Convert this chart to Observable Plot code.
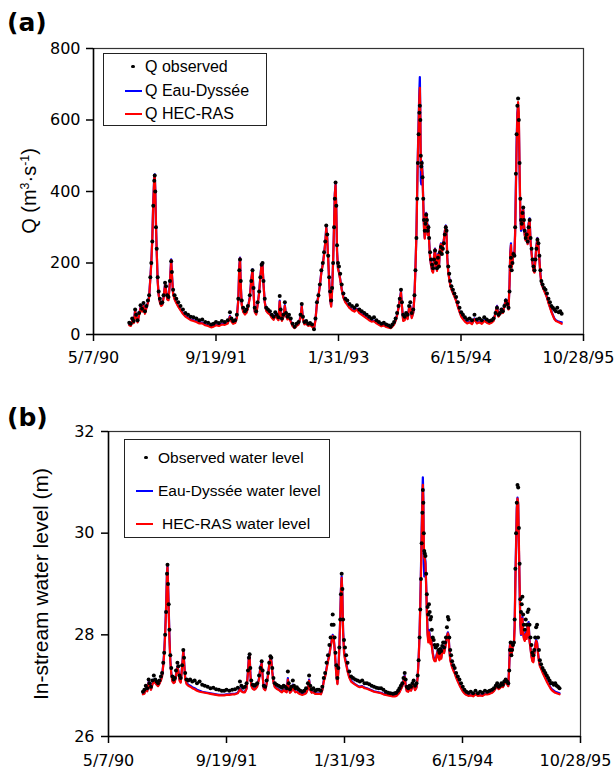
<!DOCTYPE html>
<html>
<head>
<meta charset="utf-8">
<script src="https://cdn.jsdelivr.net/npm/d3@7"></script>
<script src="https://cdn.jsdelivr.net/npm/@observablehq/plot@0.6"></script>
<style>
  html, body { margin: 0; padding: 0; background: #fff; }
  body { width: 615px; height: 769px; position: relative; overflow: hidden; font-family: "Liberation Sans", Arial, sans-serif; }
  .abs { position: absolute; }
  .lbl { position: absolute; white-space: nowrap; line-height: 20px; color: #000; }
  .panel { position: absolute; font-family: "DejaVu Sans", sans-serif; font-weight: bold; font-size: 25px; line-height: 25px; }
  .ytitle { position: absolute; white-space: nowrap; transform: translate(-50%, -50%) rotate(-90deg); color: #000; }
  .ytitle sup { font-size: 0.62em; vertical-align: 0.5em; line-height: 0; }
  .box { position: absolute; border: 1.5px solid #222; box-sizing: border-box; background: #fff; }
  .ln { position: absolute; height: 2px; }
  .dt { position: absolute; width: 3.5px; height: 3.5px; border-radius: 50%; background: #000; }
</style>
</head>
<body>
<div id="chartA" class="abs" style="left:0;top:0"></div>
<div id="chartB" class="abs" style="left:0;top:380px"></div>
<script>
// ---- tick labels / axes ----
const xTickDates = ["1990-05-07", "1991-09-19", "1993-01-31", "1994-06-15", "1995-10-28"];
const qTicks = [0, 200, 400, 600, 800];
const hTicks = [26, 28, 30, 32];

// ---- shared sampling dates ----
const dates = [
"1990-09-30","1990-10-06","1990-10-12","1990-10-18","1990-10-24","1990-10-28","1990-11-03","1990-11-09","1990-11-15","1990-11-21",
"1990-11-27","1990-12-03","1990-12-09","1990-12-15","1990-12-20","1990-12-25","1990-12-29","1991-01-02","1991-01-06","1991-01-10",
"1991-01-12","1991-01-14","1991-01-17","1991-01-20","1991-01-24","1991-01-28","1991-02-02","1991-02-07","1991-02-12","1991-02-17",
"1991-02-23","1991-02-27","1991-03-04","1991-03-09","1991-03-15","1991-03-20","1991-03-23","1991-03-28","1991-04-03","1991-04-10",
"1991-04-18","1991-04-27","1991-05-07","1991-05-17","1991-05-28","1991-06-08","1991-06-19","1991-07-01","1991-07-13","1991-07-25",
"1991-08-06","1991-08-18","1991-08-30","1991-09-09","1991-09-19","1991-10-01","1991-10-13","1991-10-25","1991-11-06","1991-11-15",
"1991-11-21","1991-11-28","1991-12-06","1991-12-13","1991-12-19","1991-12-23","1991-12-26","1991-12-29","1992-01-02","1992-01-08",
"1992-01-15","1992-01-21","1992-01-27","1992-02-04","1992-02-10","1992-02-15","1992-02-19","1992-02-24","1992-03-01","1992-03-07",
"1992-03-13","1992-03-18","1992-03-23","1992-03-27","1992-03-31","1992-04-05","1992-04-11","1992-04-18","1992-04-26","1992-05-04",
"1992-05-11","1992-05-18","1992-05-24","1992-05-31","1992-06-05","1992-06-09","1992-06-14","1992-06-20","1992-06-26","1992-07-01",
"1992-07-07","1992-07-13","1992-07-20","1992-07-28","1992-08-05","1992-08-13","1992-08-21","1992-08-29","1992-09-03","1992-09-08",
"1992-09-14","1992-09-21","1992-09-29","1992-10-07","1992-10-15","1992-10-23","1992-10-29","1992-11-04","1992-11-10","1992-11-16",
"1992-11-22","1992-11-28","1992-12-03","1992-12-08","1992-12-12","1992-12-16","1992-12-20","1992-12-24","1992-12-28","1993-01-01",
"1993-01-05","1993-01-09","1993-01-13","1993-01-16","1993-01-19","1993-01-22","1993-01-25","1993-01-29","1993-02-02","1993-02-07",
"1993-02-13","1993-02-20","1993-02-28","1993-03-08","1993-03-17","1993-03-27","1993-04-06","1993-04-16","1993-04-26","1993-05-06",
"1993-05-16","1993-05-26","1993-06-05","1993-06-15","1993-06-25","1993-07-05","1993-07-15","1993-07-25","1993-08-04","1993-08-14",
"1993-08-24","1993-09-01","1993-09-08","1993-09-15","1993-09-21","1993-09-27","1993-10-03","1993-10-08","1993-10-13","1993-10-17",
"1993-10-22","1993-10-28","1993-11-03","1993-11-09","1993-11-15","1993-11-20","1993-11-26","1993-12-02","1993-12-07","1993-12-11",
"1993-12-15","1993-12-18","1993-12-21","1993-12-24","1993-12-27","1993-12-29","1993-12-31","1994-01-02","1994-01-04","1994-01-06",
"1994-01-09","1994-01-12","1994-01-15","1994-01-18","1994-01-21","1994-01-24","1994-01-27","1994-01-30","1994-02-02","1994-02-05",
"1994-02-09","1994-02-13","1994-02-17","1994-02-21","1994-02-25","1994-03-01","1994-03-05","1994-03-09","1994-03-13","1994-03-17",
"1994-03-21","1994-03-25","1994-03-29","1994-04-02","1994-04-06","1994-04-10","1994-04-14","1994-04-17","1994-04-20","1994-04-24",
"1994-04-28","1994-05-02","1994-05-07","1994-05-13","1994-05-19","1994-05-26","1994-06-02","1994-06-09","1994-06-16","1994-06-23",
"1994-07-01","1994-07-10","1994-07-20","1994-07-30","1994-08-09","1994-08-19","1994-08-29","1994-09-08","1994-09-18","1994-09-28",
"1994-10-08","1994-10-18","1994-10-26","1994-11-03","1994-11-09","1994-11-15","1994-11-21","1994-11-27","1994-12-03","1994-12-09",
"1994-12-15","1994-12-21","1994-12-26","1994-12-30","1995-01-02","1995-01-05","1995-01-08","1995-01-11","1995-01-15","1995-01-19",
"1995-01-22","1995-01-25","1995-01-28","1995-01-31","1995-02-03","1995-02-06","1995-02-09","1995-02-12","1995-02-15","1995-02-18",
"1995-02-21","1995-02-24","1995-02-27","1995-03-02","1995-03-06","1995-03-10","1995-03-14","1995-03-18","1995-03-22","1995-03-26",
"1995-03-30","1995-04-03","1995-04-07","1995-04-11","1995-04-15","1995-04-19","1995-04-23","1995-04-27","1995-05-01","1995-05-05",
"1995-05-09","1995-05-14","1995-05-20","1995-05-26","1995-06-01","1995-06-07","1995-06-13","1995-06-19","1995-06-25","1995-07-01",
"1995-07-07","1995-07-13","1995-07-19","1995-07-25","1995-07-31"
];

// ---- (a) discharge, m3/s ----
const qObserved = [
33,30,45,38,70,55,40,60,82,72, 88,65,80,95,110,160,200,260,360,430, 445,400,300,240,160,120,100,88,90,110,
145,135,110,105,150,205,175,125,110,100, 90,80,70,60,55,50,48,45,40,42, 35,33,28,30,35,32,38,35,40,62,
45,38,40,55,100,180,210,150,95,75, 65,70,80,110,150,180,130,75,65,90, 120,160,195,200,150,100,75,70,65,55,
50,62,55,48,108,70,45,55,90,60, 50,55,45,30,22,30,35,55,85,50, 35,38,30,32,28,15,45,90,110,140,
180,200,230,260,305,280,220,160,120,95, 130,200,300,380,425,360,250,200,190,170, 140,115,100,95,85,80,75,82,70,65,
60,55,50,45,48,40,35,30,33,28, 25,22,28,35,45,60,80,100,125,90, 55,50,60,55,80,90,60,70,110,180,
270,380,480,560,620,640,600,500,470,480, 440,380,320,290,310,335,320,290,300,270, 230,210,195,185,210,235,200,185,215,190,
230,245,225,240,255,280,300,290,230,190, 170,150,135,125,115,105,90,75,62,55, 48,42,45,40,55,42,45,40,48,42,
38,40,45,60,75,55,60,70,65,80, 95,85,75,120,190,215,180,200,225,220, 300,450,560,640,660,600,480,380,320,310,
340,355,320,290,270,280,260,300,320,270, 240,210,190,180,210,240,265,255,220,180, 150,140,130,125,115,100,90,80,75,70,
65,75,62,65,58
];
const qEauDyssee = [
28,26,40,34,68,50,36,56,76,66, 82,60,76,90,106,158,205,270,375,440, 448,410,310,235,150,112,92,82,85,105,
140,125,100,98,148,210,170,115,100,90, 80,70,60,52,47,42,40,37,33,33, 28,26,22,24,28,26,30,29,33,52,
38,32,34,48,98,190,215,140,85,65, 58,62,75,105,155,182,120,65,58,85, 118,162,198,195,140,92,68,62,58,48,
43,55,48,42,95,62,40,50,82,54, 44,48,38,25,20,26,30,50,80,44, 30,33,26,28,24,18,42,88,108,138,
175,198,225,258,300,270,210,150,100,80, 125,205,310,395,420,350,235,185,175,155, 128,105,92,85,76,70,66,72,62,57,
52,47,42,38,39,33,29,25,27,23, 21,20,24,30,40,55,76,98,120,80, 40,42,55,45,75,80,48,62,108,185,
280,400,510,600,680,720,620,430,420,485, 450,370,300,270,300,340,320,280,305,260, 215,195,180,175,220,240,195,180,225,190,
240,255,230,250,265,290,305,280,215,175, 158,140,128,118,108,96,80,65,52,45, 38,33,36,31,45,33,36,32,40,35,
32,35,40,62,80,52,58,72,62,82, 98,85,72,140,230,255,190,205,230,225, 290,420,540,620,640,600,450,340,290,295,
345,350,310,280,265,285,255,310,325,260, 230,200,180,175,215,250,270,250,210,170, 145,135,125,115,105,90,78,65,55,45,
40,38,36,35,34
];
const qHecRas = [
26,24,38,32,66,48,34,54,74,64, 80,58,74,88,104,156,200,265,370,438, 445,405,305,230,148,110,90,80,83,103,
138,123,98,96,146,208,168,113,98,88, 78,68,58,50,45,40,38,35,31,31, 26,24,20,22,26,24,28,27,31,50,
36,30,32,46,96,188,213,138,83,63, 56,60,73,103,153,180,118,63,56,83, 116,160,196,193,138,90,66,60,56,46,
41,53,46,40,92,60,38,48,80,52, 42,46,36,23,18,24,28,48,78,42, 28,31,24,26,22,16,40,86,106,136,
173,196,223,256,298,268,208,148,98,78, 123,203,308,392,418,348,233,183,173,153, 126,103,90,83,74,68,64,70,60,55,
50,45,40,36,37,31,27,23,25,21, 19,18,22,28,38,53,74,96,118,78, 38,40,53,43,73,78,46,60,106,183,
278,395,500,585,660,690,600,480,460,475, 440,365,295,268,298,338,318,278,303,258, 213,193,178,173,218,238,193,178,223,188,
238,253,228,248,263,288,303,278,213,173, 156,138,126,116,106,94,78,63,50,43, 36,31,34,29,43,31,34,30,38,33,
30,33,38,60,78,50,56,70,60,80, 96,83,70,138,225,250,188,203,228,223, 280,400,520,610,650,620,470,350,295,298,
342,348,308,278,263,283,253,308,322,258, 228,198,178,173,213,248,268,248,208,168, 143,133,123,113,103,88,76,63,53,43,
38,36,34,32,30
];

// ---- (b) in-stream water level, m ----
const hObserved = [
26.88,26.92,27.00,26.95,27.12,27.05,26.98,27.10,27.20,27.12, 27.08,27.05,27.10,27.18,27.25,27.45,27.65,28.00,28.45,29.20,
29.38,29.00,28.60,28.10,27.60,27.35,27.18,27.12,27.15,27.30, 27.45,27.38,27.20,27.15,27.40,27.70,27.55,27.25,27.12,27.10,
27.12,27.08,27.10,27.05,27.08,27.02,27.00,26.98,26.95,26.96, 26.93,26.92,26.90,26.90,26.92,26.90,26.92,26.93,26.96,27.08,
27.00,26.96,26.98,27.05,27.30,27.55,27.62,27.35,27.10,27.02, 27.00,27.02,27.05,27.20,27.35,27.48,27.30,27.00,26.98,27.10,
27.25,27.45,27.58,27.55,27.35,27.15,27.05,27.02,27.00,26.98, 26.96,27.00,26.98,26.95,27.28,27.05,26.93,26.98,27.10,27.00,
26.95,26.97,26.93,26.90,26.88,26.90,26.95,27.05,27.20,27.00, 26.93,26.95,26.90,26.92,26.92,26.90,26.98,27.15,27.25,27.45,
27.60,27.80,27.95,28.20,28.40,28.20,27.95,27.65,27.40,27.15, 27.35,27.75,28.30,28.80,29.20,28.90,28.30,27.90,27.75,27.60,
27.45,27.28,27.18,27.15,27.12,27.10,27.08,27.10,27.05,27.05, 27.03,27.00,26.98,26.96,26.95,26.95,26.92,26.88,26.86,26.85,
26.84,26.85,26.86,26.90,26.95,27.00,27.05,27.15,27.25,27.12, 26.98,26.95,27.00,26.98,27.05,27.10,27.00,27.05,27.20,27.50,
27.95,28.50,29.10,29.80,30.40,30.85,30.60,30.00,29.65,29.60, 29.55,29.20,28.80,28.55,28.40,28.60,28.45,28.30,28.35,28.10,
27.95,27.90,27.80,27.75,27.78,27.80,27.70,27.65,27.72,27.68, 27.78,27.85,27.75,27.85,27.95,28.15,28.35,28.30,27.95,27.70,
27.60,27.48,27.40,27.35,27.25,27.18,27.12,27.05,26.98,26.92, 26.88,26.86,26.88,26.85,26.90,26.85,26.88,26.86,26.90,26.88,
26.90,26.92,26.95,27.00,27.05,26.98,27.00,27.05,27.02,27.08, 27.12,27.08,27.05,27.30,27.70,27.85,27.60,27.70,27.80,27.85,
28.30,29.30,30.00,30.60,30.95,30.90,30.10,29.40,28.70,28.45, 28.60,28.75,28.40,28.20,28.10,28.30,28.20,28.45,28.50,28.20,
27.95,27.80,27.65,27.60,27.70,27.95,28.15,28.20,27.95,27.70, 27.50,27.42,27.35,27.30,27.25,27.20,27.15,27.10,27.05,27.05,
27.02,27.05,27.00,26.98,26.95
];
const hEauDyssee = [
26.84,26.85,26.95,26.90,27.08,27.00,26.93,27.04,27.12,27.06, 27.03,27.00,27.05,27.12,27.20,27.42,27.66,28.05,28.55,29.25,
29.35,29.05,28.55,28.00,27.50,27.25,27.10,27.06,27.08,27.22, 27.38,27.30,27.12,27.08,27.38,27.70,27.50,27.15,27.05,27.02,
27.00,26.97,26.95,26.92,26.90,26.88,26.87,26.86,26.85,26.84, 26.83,26.82,26.82,26.82,26.83,26.83,26.84,26.84,26.86,26.95,
26.90,26.88,26.88,26.95,27.28,27.58,27.60,27.25,27.02,26.95, 26.93,26.95,27.00,27.15,27.38,27.45,27.20,26.95,26.92,27.05,
27.22,27.42,27.55,27.50,27.28,27.08,26.98,26.95,26.93,26.90, 26.88,26.92,26.90,26.88,27.15,26.96,26.87,26.90,27.02,26.92,
26.88,26.89,26.86,26.84,26.83,26.84,26.86,26.95,27.12,26.92, 26.87,26.88,26.85,26.85,26.85,26.84,26.92,27.10,27.20,27.35,
27.50,27.62,27.78,27.90,28.00,27.95,27.75,27.45,27.20,27.05, 27.30,27.75,28.35,28.90,29.15,28.80,28.10,27.70,27.55,27.45,
27.30,27.18,27.10,27.06,27.03,27.00,26.98,26.99,26.96,26.95, 26.93,26.91,26.89,26.88,26.87,26.86,26.84,26.83,26.82,26.81,
26.80,26.80,26.81,26.84,26.88,26.94,27.00,27.10,27.20,27.02, 26.90,26.89,26.94,26.91,27.00,27.02,26.92,26.97,27.18,27.52,
28.00,28.60,29.30,30.10,30.75,31.10,30.70,29.40,29.15,29.55, 29.45,29.00,28.50,28.05,27.90,28.10,28.00,27.85,27.95,27.80,
27.65,27.55,27.50,27.50,27.60,27.68,27.58,27.52,27.62,27.55, 27.68,27.72,27.66,27.75,27.85,27.98,28.05,28.00,27.75,27.52,
27.45,27.38,27.32,27.26,27.18,27.10,27.03,26.96,26.90,26.86, 26.83,26.81,26.82,26.80,26.84,26.81,26.82,26.81,26.84,26.84,
26.85,26.87,26.90,26.96,27.02,26.94,26.96,27.00,26.98,27.04, 27.08,27.04,27.00,27.40,27.80,27.85,27.62,27.70,27.82,27.85,
28.20,29.10,29.80,30.50,30.70,30.55,29.70,28.90,28.20,28.00, 28.25,28.35,28.05,27.95,27.90,28.05,27.95,28.20,28.25,27.90,
27.75,27.60,27.50,27.48,27.62,27.80,27.90,27.85,27.65,27.50, 27.40,27.35,27.28,27.22,27.16,27.10,27.05,27.00,26.95,26.92,
26.90,26.88,26.87,26.86,26.85
];
const hHecRas = [
26.83,26.84,26.94,26.89,27.06,26.98,26.92,27.02,27.10,27.05, 27.02,26.99,27.04,27.10,27.18,27.40,27.62,28.00,28.50,29.22,
29.33,29.00,28.50,27.95,27.48,27.23,27.08,27.05,27.07,27.20, 27.36,27.28,27.10,27.06,27.36,27.68,27.48,27.13,27.03,27.00,
26.98,26.95,26.93,26.90,26.88,26.87,26.86,26.85,26.84,26.83, 26.82,26.81,26.81,26.81,26.82,26.82,26.83,26.83,26.85,26.93,
26.89,26.87,26.87,26.94,27.26,27.56,27.58,27.23,27.00,26.94, 26.92,26.94,26.98,27.13,27.36,27.43,27.18,26.94,26.91,27.03,
27.20,27.40,27.53,27.48,27.26,27.06,26.97,26.94,26.92,26.89, 26.87,26.91,26.89,26.87,27.12,26.95,26.86,26.89,27.00,26.91,
26.87,26.88,26.85,26.83,26.82,26.83,26.85,26.94,27.10,26.91, 26.86,26.87,26.84,26.84,26.84,26.83,26.91,27.08,27.18,27.33,
27.48,27.60,27.76,27.88,27.98,27.93,27.73,27.43,27.18,27.03, 27.28,27.73,28.32,28.88,29.12,28.78,28.05,27.65,27.52,27.42,
27.28,27.16,27.08,27.05,27.02,26.99,26.97,26.98,26.95,26.94, 26.92,26.90,26.88,26.87,26.86,26.85,26.83,26.82,26.81,26.80,
26.79,26.79,26.80,26.83,26.87,26.93,26.99,27.08,27.18,27.00, 26.89,26.88,26.93,26.90,26.99,27.01,26.91,26.96,27.16,27.50,
27.98,28.55,29.20,29.95,30.60,30.95,30.60,29.80,29.50,29.50, 29.40,28.95,28.45,28.00,27.85,28.05,27.95,27.82,27.92,27.78,
27.62,27.52,27.48,27.48,27.58,27.66,27.56,27.50,27.60,27.53, 27.66,27.70,27.64,27.73,27.83,27.96,28.03,27.98,27.73,27.50,
27.43,27.36,27.30,27.24,27.16,27.08,27.01,26.95,26.89,26.85, 26.82,26.80,26.81,26.79,26.83,26.80,26.81,26.80,26.83,26.83,
26.84,26.86,26.89,26.95,27.01,26.93,26.95,26.99,26.97,27.03, 27.07,27.03,26.99,27.38,27.78,27.82,27.60,27.68,27.80,27.83,
28.15,29.00,29.70,30.45,30.68,30.60,29.80,29.00,28.25,28.02, 28.22,28.32,28.02,27.92,27.88,28.02,27.92,28.18,28.22,27.88,
27.73,27.58,27.48,27.46,27.60,27.78,27.88,27.83,27.63,27.48, 27.38,27.33,27.26,27.20,27.14,27.08,27.03,26.98,26.93,26.90,
26.88,26.86,26.85,26.84,26.83
];

// ---- build table ----
const parse = d3.utcParse("%Y-%m-%d");
const rows = dates.map((d, i) => ({
  date: parse(d),
  qObs: qObserved[i], qEau: qEauDyssee[i], qHec: qHecRas[i],
  hObs: hObserved[i], hEau: hEauDyssee[i], hHec: hHecRas[i]
}));
const xTicks = xTickDates.map(parse);
const xDomain = [xTicks[0], xTicks[xTicks.length - 1]];
const fmt = d3.utcFormat("%-m/%-d/%y");
const tickFont = "'DejaVu Sans', sans-serif";

function panel({height, mt, mb, ml, mr, yDomain, yTicks, yKeyObs, yKeyEau, yKeyHec, xPad, yPad}) {
  const svg = Plot.plot({
    width: 615, height,
    marginTop: mt, marginBottom: mb, marginLeft: ml, marginRight: mr,
    style: {fontFamily: tickFont, fontSize: "16px", color: "#000", background: "transparent", overflow: "visible"},
    x: {type: "utc", domain: xDomain},
    y: {domain: yDomain},
    marks: [
      Plot.frame({stroke: "#333", strokeWidth: 1.2}),
      Plot.lineY(rows, {x: "date", y: yKeyEau, stroke: "#0000ff", strokeWidth: 2.2}),
      Plot.lineY(rows, {x: "date", y: yKeyHec, stroke: "#ff0000", strokeWidth: 2.2}),
      Plot.dot(rows, {x: "date", y: yKeyObs, r: 2.0, fill: "#000", stroke: null}),
      Plot.ruleX([xDomain[0]], {stroke: "#000", strokeWidth: 1.5}),
      Plot.ruleY([yDomain[0]], {stroke: "#000", strokeWidth: 1.5}),
      Plot.axisX({ticks: xTicks, tickFormat: fmt, tickSize: 7, tickPadding: xPad, strokeWidth: 1.5, label: null, fontSize: 16}),
      Plot.axisY({ticks: yTicks, tickFormat: d3.format("d"), tickSize: 7, tickPadding: yPad, strokeWidth: 1.5, label: null, fontSize: 16})
    ]
  });
  // keep the last date label inside the page edge
  const labels = svg.querySelectorAll('g[aria-label="x-axis tick label"] text');
  if (labels.length) {
    const last = labels[labels.length - 1];
    const t = last.getAttribute("transform") || "";
    last.setAttribute("transform", t + " translate(-5,0)");
  }
  return svg;
}

document.getElementById("chartA").append(panel({
  height: 370, mt: 48, mb: 36, ml: 93, mr: 32,
  yDomain: [0, 800], yTicks: qTicks, yKeyObs: "qObs", yKeyEau: "qEau", yKeyHec: "qHec", xPad: 10, yPad: 6
}));
document.getElementById("chartB").append(panel({
  height: 389, mt: 51, mb: 33, ml: 108, mr: 35,
  yDomain: [26, 32], yTicks: hTicks, yKeyObs: "hObs", yKeyEau: "hEau", yKeyHec: "hHec", xPad: 11, yPad: 7
}));
</script>

<!-- panel letters -->
<div class="panel" style="left:7px;top:10px">(a)</div>
<div class="panel" style="left:7px;top:405px">(b)</div>

<!-- y titles -->
<div class="ytitle" style="left:29px;top:191px;font-size:20px">Q (m<sup>3</sup>·s<sup>-1</sup>)</div>
<div class="ytitle" style="left:41px;top:584px;font-size:21px">In-stream water level (m)</div>

<!-- legend (a) -->
<div class="box" style="left:103px;top:53px;width:164px;height:73px"></div>
<div class="dt" style="left:131.2px;top:64.9px"></div>
<div class="lbl" style="left:145px;top:56.7px;font-size:16px">Q observed</div>
<div class="ln" style="left:125px;top:90px;width:17px;background:#0000ff"></div>
<div class="lbl" style="left:145px;top:81px;font-size:16px">Q Eau-Dyssée</div>
<div class="ln" style="left:125px;top:113px;width:17px;background:#ff0000"></div>
<div class="lbl" style="left:145px;top:104px;font-size:16px">Q HEC-RAS</div>

<!-- legend (b) -->
<div class="box" style="left:124px;top:439px;width:206px;height:99px"></div>
<div class="dt" style="left:144.2px;top:455.9px"></div>
<div class="lbl" style="left:158px;top:447.7px;font-size:15.5px">Observed water level</div>
<div class="ln" style="left:136px;top:490px;width:17px;background:#0000ff"></div>
<div class="lbl" style="left:158px;top:481px;font-size:15.5px">Eau-Dyssée water level</div>
<div class="ln" style="left:136px;top:523px;width:17px;background:#ff0000"></div>
<div class="lbl" style="left:162px;top:514px;font-size:15.5px">HEC-RAS water level</div>
</body>
</html>
